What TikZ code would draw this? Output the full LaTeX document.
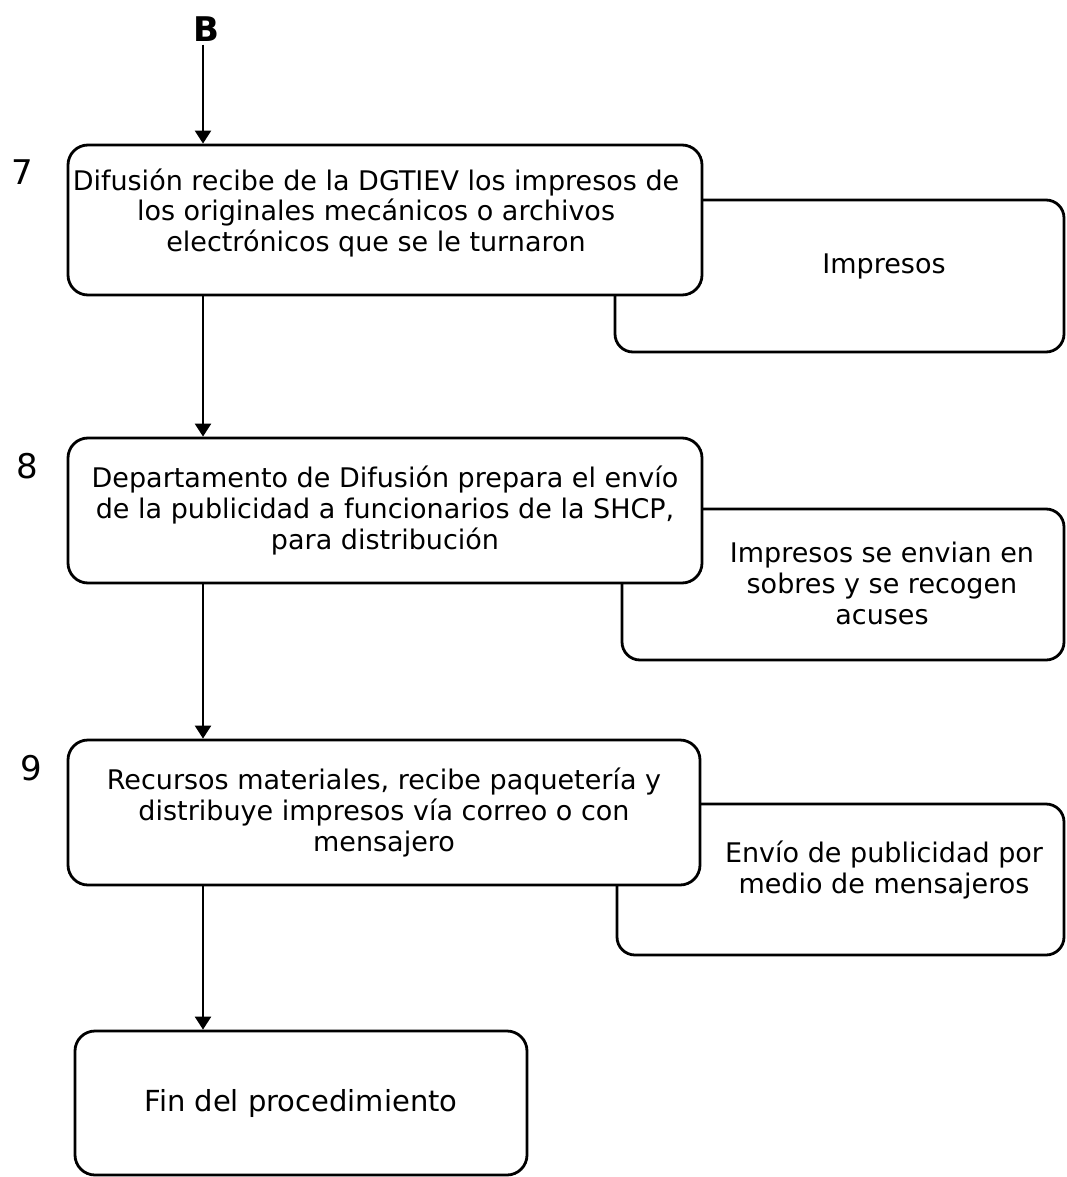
\documentclass[tikz,border=0pt]{standalone}
\usepackage{fontspec}
\setmainfont{DejaVu Sans}
\usetikzlibrary{arrows.meta}
\begin{document}
\begin{tikzpicture}[x=1pt,y=-1pt,
  mainbox/.style={draw, line width=2.8pt, rounded corners=20pt, fill=white, inner sep=0pt,
    align=center, font=\fontsize{27}{31}\selectfont},
  sidebox/.style={draw, line width=2.8pt, rounded corners=18pt, fill=white, inner sep=0pt},
  sidetxt/.style={align=center, font=\fontsize{27}{31}\selectfont, inner sep=0pt},
  num/.style={font=\fontsize{34}{34}\selectfont, inner sep=0pt},
  flow/.style={line width=2.4pt, -{Triangle[width=16pt,length=13pt]}}
]
\useasboundingbox (0,0) rectangle (1066,1177);

% side boxes (drawn first, partly hidden)
\node[sidebox, minimum width=449pt, minimum height=152pt] (s7) at (839.5,276) {};
\node[sidebox, minimum width=442pt, minimum height=151pt] (s8) at (843,584.5) {};
\node[sidebox, minimum width=447pt, minimum height=151pt] (s9) at (840.5,879.5) {};

\node[sidetxt] (t7) at (884,266) {Impresos};
\node[sidetxt] (t8) at (882,583) {Impresos se envian en\\sobres y se recogen\\acuses};
\node[sidetxt] (t9) at (884,870) {Envío de publicidad por\\medio de mensajeros};

% main boxes
\node[mainbox, minimum width=634pt, minimum height=150pt] (b7) at (385,220) {};
\node[sidetxt, font=\fontsize{27}{30.5}\selectfont] (b7t) at (376,213) {Difusión recibe de la DGTIEV los impresos de\\los originales mecánicos o archivos\\electrónicos que se le turnaron};
\node[mainbox, minimum width=634pt, minimum height=145pt] (b8) at (385,510.5) {Departamento de Difusión prepara el envío\\de la publicidad a funcionarios de la SHCP,\\para distribución};
\node[mainbox, minimum width=632pt, minimum height=145pt] (b9) at (384,812.5) {Recursos materiales, recibe paquetería y\\distribuye impresos vía correo o con\\mensajero};
\node[mainbox, minimum width=452pt, minimum height=144pt, font=\fontsize{29}{33}\selectfont] (fin) at (301,1103) {Fin del procedimiento};

% step numbers
\node[num] (n7) at (22,172) {7};
\node[num] (n8) at (27,466) {8};
\node[num] (n9) at (31,768) {9};

% connector B
\node[font=\fontsize{34}{34}\selectfont\bfseries, inner sep=0pt] (B) at (206,29) {B};
\coordinate (ax) at (203,0);

\draw[flow] (B.south -| ax) ++(0,3) -- (b7.north -| ax);
\draw[flow] (b7.south -| ax) -- (b8.north -| ax);
\draw[flow] (b8.south -| ax) -- (b9.north -| ax);
\draw[flow] (b9.south -| ax) -- (fin.north -| ax);
\end{tikzpicture}
\end{document}
